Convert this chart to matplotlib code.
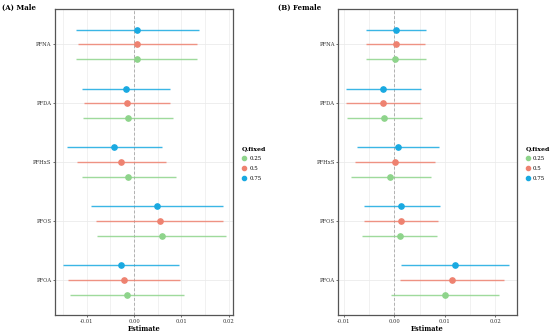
import matplotlib.pyplot as plt
from matplotlib.lines import Line2D
import numpy as np

# categories listed bottom to top (y = 1..5)
pollutants = ['PFOA', 'PFOS', 'PFHxS', 'PFDA', 'PFNA']
quantiles = ['0.25', '0.5', '0.75']
colors = {'0.25': '#8ed48b', '0.5': '#ee8270', '0.75': '#19a9e1'}

# male: estimate, lower, upper for each quantile (order as pollutants)
male_est = {
    '0.25': [-0.0014, 0.0058, -0.0012, -0.0013, 0.0006],
    '0.5': [-0.0021, 0.0054, -0.0027, -0.0015, 0.0006],
    '0.75': [-0.0027, 0.0049, -0.0042, -0.0017, 0.0006],
}
male_lo = {
    '0.25': [-0.0135, -0.0078, -0.0111, -0.0108, -0.0122],
    '0.5': [-0.0140, -0.0080, -0.0121, -0.0105, -0.0119],
    '0.75': [-0.0151, -0.0091, -0.0142, -0.0109, -0.0122],
}
male_hi = {
    '0.25': [0.0106, 0.0194, 0.0088, 0.0083, 0.0134],
    '0.5': [0.0098, 0.0188, 0.0068, 0.0077, 0.0134],
    '0.75': [0.0096, 0.0188, 0.0058, 0.0077, 0.0137],
}

female_est = {
    '0.25': [0.0100, 0.0011, -0.0008, -0.0020, 0.0002],
    '0.5': [0.0114, 0.0013, 0.0001, -0.0022, 0.0003],
    '0.75': [0.0119, 0.0014, 0.0007, -0.0022, 0.0003],
}
female_lo = {
    '0.25': [-0.0007, -0.0064, -0.0086, -0.0094, -0.0057],
    '0.5': [0.0011, -0.0061, -0.0078, -0.0096, -0.0056],
    '0.75': [0.0013, -0.0061, -0.0074, -0.0096, -0.0056],
}
female_hi = {
    '0.25': [0.0207, 0.0085, 0.0073, 0.0055, 0.0062],
    '0.5': [0.0216, 0.0087, 0.0080, 0.0051, 0.0061],
    '0.75': [0.0226, 0.0090, 0.0088, 0.0052, 0.0062],
}

plt.rcParams['font.family'] = 'DejaVu Serif'

fig = plt.figure(figsize=(5.5, 3.34), dpi=100)
ax_m = fig.add_axes([0.100, 0.056, 0.3236, 0.917])
ax_f = fig.add_axes([0.615, 0.056, 0.3244, 0.917])

offsets = {'0.25': -0.25, '0.5': 0.0, '0.75': 0.25}
y = np.arange(1, len(pollutants) + 1)


def draw(ax, est, lo, hi, xlim, title, title_x):
    for xv in np.arange(-0.015, 0.0251, 0.005):
        ax.axvline(xv, color='#ebebeb', lw=0.5, zorder=0)
    for yv in y:
        ax.axhline(yv, color='#ebebeb', lw=0.6, zorder=0)
    ax.axvline(0, color='#b0b0b0', lw=0.7, ls=(0, (3, 2)), zorder=1)
    for q in quantiles:
        yy = y + offsets[q]
        ax.hlines(yy, lo[q], hi[q], color=colors[q], lw=1.0, alpha=0.85, zorder=2)
        ax.plot(est[q], yy, 'o', color=colors[q], ms=3.8, zorder=3)
    ax.set_xlim(*xlim)
    ax.set_ylim(0.4, 5.6)
    ax.set_yticks(y)
    ax.set_yticklabels(pollutants)
    ax.set_xticks([-0.01, 0.0, 0.01, 0.02])
    ax.set_xticklabels(['-0.01', '0.00', '0.01', '0.02'])
    ax.tick_params(labelsize=3.8, length=1.5, width=0.5, colors='#333333', pad=1)
    for s in ax.spines.values():
        s.set_color('#555555')
        s.set_linewidth(0.9)
    ax.set_xlabel('Estimate', fontsize=4.8, fontweight='bold', labelpad=1)
    fig.text(title_x, 0.99, title, fontsize=5, fontweight='bold', va='top', ha='left')


draw(ax_m, male_est, male_lo, male_hi, (-0.0167, 0.0209), '(A) Male', 0.004)
draw(ax_f, female_est, female_lo, female_hi, (-0.0111, 0.0242), '(B) Female', 0.506)

handles = [Line2D([0], [0], color=colors[q], marker='o', ms=3, lw=0) for q in quantiles]
for bx in (0.432, 0.948):
    leg = fig.legend(handles, quantiles, title='Q.fixed', loc='upper left',
                     bbox_to_anchor=(bx, 0.575), frameon=False, fontsize=4,
                     title_fontsize=4.5, handlelength=0.8, handletextpad=0.6,
                     labelspacing=0.9, borderpad=0.2)
    leg.get_title().set_fontweight('bold')
    leg._legend_box.align = 'left'

fig.savefig('out.png', dpi=100)
